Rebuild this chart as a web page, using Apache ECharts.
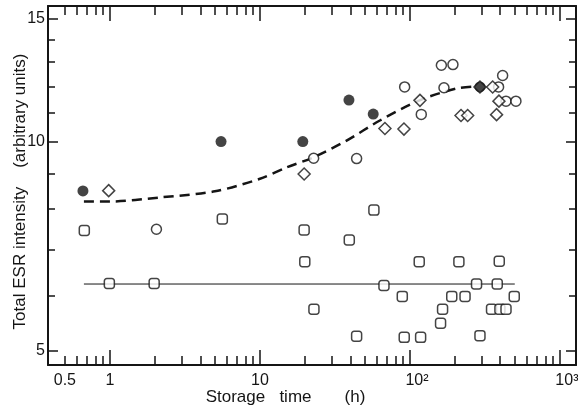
<!DOCTYPE html>
<html lang="en">
<head>
<meta charset="UTF-8">
<script src="https://cdn.jsdelivr.net/npm/echarts@6.0.0/dist/echarts.min.js"></script>
<title>Total ESR intensity vs storage time</title>
<style>html,body{margin:0;padding:0;background:#fff;}</style>
</head>
<body>
<div id="main" style="width:578px;height:408px;"></div>
<script type="text/javascript">
// data (storage time in h, intensity in arbitrary units)
var filledX = [0.66, 5.5, 19.3, 39.2, 56.9, 293];
var filledY = [8.49, 10.0, 10.0, 11.47, 10.95, 11.98];

var diamondX = [0.98, 19.7, 68.1, 91.2, 116.6, 219, 242.5, 293, 356, 378, 392];
var diamondY = [8.5, 8.98, 10.44, 10.42, 11.46, 10.9, 10.9, 11.98, 11.98, 10.93, 11.43];

var openX = [2.04, 22.8, 44.1, 92.2, 119, 162, 168.6, 193.5, 390, 415, 437, 509];
var openY = [7.48, 9.46, 9.45, 11.98, 10.94, 12.87, 11.95, 12.9, 11.98, 12.44, 11.43, 11.43];

var squareX = [0.674, 0.99, 1.97, 5.61, 19.7, 19.9, 22.9, 39.4, 44.1, 57.5, 67.1, 88.9, 91.6, 115.3,
               117.8, 160, 165, 190, 212, 233, 278, 293, 350, 382, 394, 398, 437, 496];
var squareY = [7.45, 6.25, 6.25, 7.74, 7.46, 6.72, 5.74, 7.22, 5.25, 7.97, 6.21, 5.99, 5.23, 6.72,
               5.23, 5.48, 5.74, 5.99, 6.72, 5.99, 6.24, 5.26, 5.74, 6.24, 6.73, 5.74, 5.74, 5.99];

// dashed trend curve and flat reference line
var curveX = [0.67, 1, 2.15, 5, 10, 15.1, 22.7, 37.8, 63, 116, 205, 280];
var curveY = [8.2, 8.2, 8.31, 8.48, 8.84, 9.18, 9.49, 10.03, 10.72, 11.46, 11.92, 12.0];
var flatX = [0.67, 500];
var flatY = [6.24, 6.24];

// ticks and labels
var xMajorTicks = [1, 10, 100, 1000];
var xMinorTicks = [0.5, 0.6, 0.7, 0.8, 0.9, 2, 3, 4, 5, 6, 7, 8, 9,
                   20, 30, 40, 50, 60, 70, 80, 90, 200, 300, 400, 500, 600, 700, 800, 900];
var xLabelValues = [0.5, 1, 10, 100, 1000];
var xLabels = ['0.5', '1', '10', '10²', '10³'];
var yMajorTicks = [5, 10, 15];
var yMinorTicks = [6, 7, 8, 9, 11, 12, 13, 14];
var yLabels = ['5', '10', '15'];

var xRange = [0.386, 1280];
var yRange = [4.773, 15.66];

function lg(v) { return Math.log10(v); }
function pairs(xs, ys) {
    return xs.map(function (x, i) { return [lg(x), lg(ys[i])]; });
}
function lookup(vals, labels) {
    return function (v) {
        for (var i = 0; i < vals.length; i++) {
            if (Math.abs(lg(vals[i]) - v) < 1e-6) {
                // the power labels sit a little right of their tick in the original
                return labels[i].length > 2 && labels[i] !== '0.5' ? '{p|' + labels[i] + '}' : labels[i];
            }
        }
        return '';
    };
}

var ink = '#151515';
var font = 'Liberation Sans';

function axis(kind, pos, ticks, len, main, extra) {
    var a = {
        type: 'value',
        position: pos,
        min: lg(kind === 'x' ? xRange[0] : yRange[0]),
        max: lg(kind === 'x' ? xRange[1] : yRange[1]),
        axisLine: { show: main, onZero: false, lineStyle: { color: ink, width: 2 } },
        axisTick: { show: true, inside: true, length: len, customValues: ticks.map(lg),
                    lineStyle: { color: ink, width: 1.5 } },
        axisLabel: { show: false },
        splitLine: { show: false }
    };
    return Object.assign(a, extra || {});
}

var myChart = echarts.init(document.getElementById('main'));

var option = {
    animation: false,
    backgroundColor: '#fff',
    grid: { left: 48, right: 2, top: 6, bottom: 43, containLabel: false, outerBoundsMode: 'none' },
    xAxis: [
        axis('x', 'bottom', xMajorTicks, 15, true, {
            axisLabel: {
                show: true, customValues: xLabelValues.map(lg), formatter: lookup(xLabelValues, xLabels),
                margin: 8, color: ink, fontSize: 16, fontFamily: font,
                rich: { p: { color: ink, fontSize: 16, fontFamily: font, padding: [0, 0, 0, 14] } }
            },
            name: 'Storage   time       (h)',
            nameLocation: 'middle',
            nameGap: 24,
            nameMoveOverlap: false,
            nameTextStyle: { color: ink, fontSize: 17, fontFamily: font, padding: [0, 53, 0, 0] }
        }),
        axis('x', 'bottom', xMinorTicks, 9, false),
        axis('x', 'top', xMajorTicks, 15, true),
        axis('x', 'top', xMinorTicks, 9, false)
    ],
    yAxis: [
        axis('y', 'left', yMajorTicks, 10, true, {
            axisLabel: {
                show: true, customValues: yMajorTicks.map(lg), formatter: lookup(yMajorTicks, yLabels),
                margin: 3, color: ink, fontSize: 16, fontFamily: font
            },
            name: 'Total ESR intensity    (arbitrary units)',
            nameLocation: 'middle',
            nameGap: 19,
            nameMoveOverlap: false,
            nameTextStyle: { color: ink, fontSize: 17, fontFamily: font, padding: [0, 12, 0, 0] }
        }),
        axis('y', 'left', yMinorTicks, 7, false),
        axis('y', 'right', yMajorTicks, 10, true),
        axis('y', 'right', yMinorTicks, 7, false)
    ],
    series: [
        {
            type: 'line', data: pairs(flatX, flatY), symbol: 'none',
            lineStyle: { color: ink, width: 1 }, z: 1
        },
        {
            type: 'line', data: pairs(curveX, curveY), symbol: 'none', smooth: 0.3,
            lineStyle: { color: ink, width: 2.5, type: [10, 6] }, z: 1
        },
        {
            type: 'scatter', data: pairs(squareX, squareY), symbol: 'roundRect', symbolSize: 10,
            itemStyle: { color: '#fff', borderColor: ink, borderWidth: 1.5 }, z: 2
        },
        {
            type: 'scatter', data: pairs(openX, openY), symbol: 'circle', symbolSize: 10,
            itemStyle: { color: '#fff', borderColor: ink, borderWidth: 1.5 }, z: 2
        },
        {
            type: 'scatter', data: pairs(diamondX, diamondY), symbol: 'diamond', symbolSize: [12, 12],
            itemStyle: { color: '#fff', borderColor: ink, borderWidth: 1.5 }, z: 3
        },
        {
            type: 'scatter', data: pairs(filledX, filledY), symbol: 'circle', symbolSize: 11,
            itemStyle: { color: ink }, z: 4
        }
    ]
};

myChart.setOption(option);
</script>
</body>
</html>
